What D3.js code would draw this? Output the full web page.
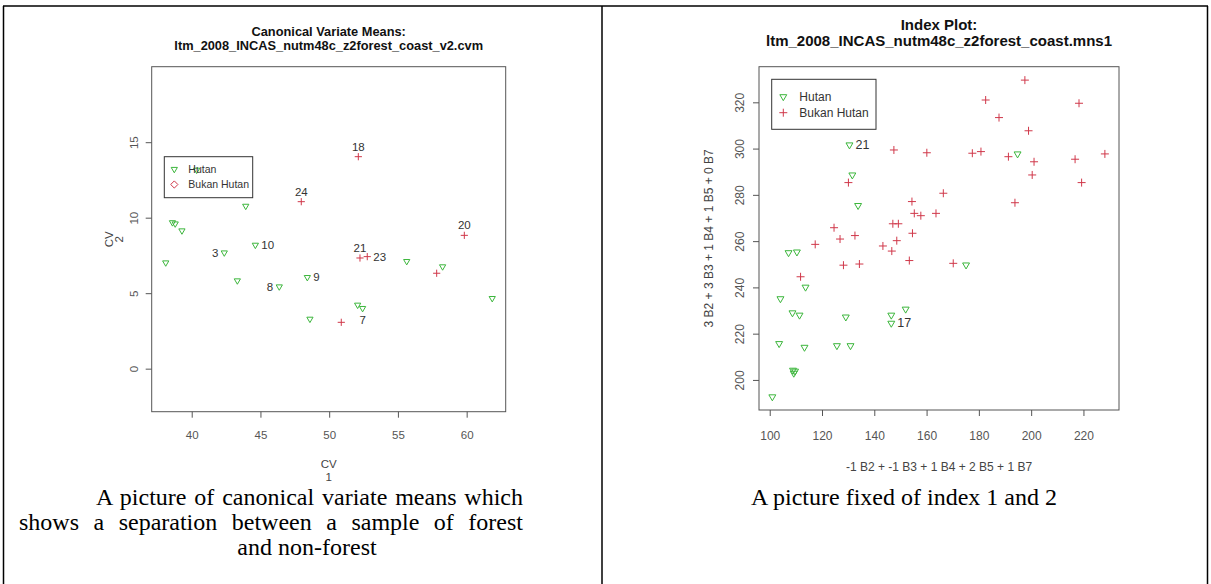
<!DOCTYPE html>
<html>
<head>
<meta charset="utf-8">
<script src="https://cdn.jsdelivr.net/npm/d3@7"></script>
<style>
  body { margin: 0; background: #fff; }
  svg { display: block; }
  text { font-family: "Liberation Sans", Arial, sans-serif; }
  .caption { font-family: "Liberation Serif", "Times New Roman", serif; fill: #000; }
</style>
</head>
<body>
<svg width="1211" height="584"></svg>
<script>
var GREEN = "#3cb63c";
var RED = "#d0384a";

// Canonical Variate Means (kiri)
var cvmTitle = ["Canonical Variate Means:", "ltm_2008_INCAS_nutm48c_z2forest_coast_v2.cvm"];
var cvmXTicks = [40, 45, 50, 55, 60];
var cvmYTicks = [0, 5, 10, 15];
var cvmHutan = [
  {x: 38.11, y: 7.02}, {x: 38.60, y: 9.68}, {x: 38.80, y: 9.60}, {x: 39.29, y: 9.14},
  {x: 40.36, y: 13.16}, {x: 42.37, y: 7.68, lab: "3"}, {x: 43.32, y: 5.83},
  {x: 43.93, y: 10.77}, {x: 44.63, y: 8.19, lab: "10"}, {x: 46.37, y: 5.43, lab: "8"},
  {x: 48.41, y: 6.05, lab: "9"}, {x: 48.60, y: 3.29}, {x: 52.07, y: 4.22},
  {x: 52.43, y: 4.00, lab: "7"}, {x: 55.64, y: 7.11}, {x: 58.25, y: 6.76},
  {x: 61.86, y: 4.66}
];
var cvmBukan = [
  {x: 47.97, y: 11.06, lab: "24"}, {x: 50.88, y: 3.07}, {x: 52.12, y: 14.04, lab: "18"},
  {x: 52.24, y: 7.33, lab: "21"}, {x: 52.77, y: 7.42, lab: "23"}, {x: 57.82, y: 6.32},
  {x: 59.83, y: 8.83, lab: "20"}
];

// Index Plot (kanan)
var idxTitle = ["Index Plot:", "ltm_2008_INCAS_nutm48c_z2forest_coast.mns1"];
var idxXTicks = [100, 120, 140, 160, 180, 200, 220];
var idxYTicks = [200, 220, 240, 260, 280, 300, 320];
var idxHutan = [
  {x: 130.5, y: 301.6, lab: "21"}, {x: 131.6, y: 288.6}, {x: 133.8, y: 275.4},
  {x: 107.2, y: 255.0}, {x: 110.4, y: 255.3}, {x: 113.7, y: 240.1}, {x: 104.1, y: 235.1},
  {x: 108.7, y: 229.0}, {x: 111.4, y: 228.0}, {x: 129.1, y: 227.2}, {x: 146.5, y: 228.0},
  {x: 146.5, y: 224.5, lab: "17"}, {x: 152.0, y: 230.6}, {x: 103.6, y: 215.7},
  {x: 113.3, y: 214.1}, {x: 125.7, y: 214.8}, {x: 130.9, y: 214.8}, {x: 108.9, y: 204.2},
  {x: 109.2, y: 202.9}, {x: 109.7, y: 203.8}, {x: 101.0, y: 192.7}, {x: 194.8, y: 297.7},
  {x: 175.1, y: 249.7}
];
var idxBukan = [
  {x: 130.1, y: 285.3}, {x: 147.5, y: 299.4}, {x: 160.1, y: 298.2}, {x: 177.5, y: 298.0},
  {x: 180.8, y: 298.7}, {x: 191.3, y: 296.5}, {x: 201.1, y: 294.3}, {x: 216.8, y: 295.4},
  {x: 228.2, y: 297.7}, {x: 197.6, y: 329.6}, {x: 182.6, y: 321.0}, {x: 218.3, y: 319.6},
  {x: 187.7, y: 313.4}, {x: 199.0, y: 307.7}, {x: 200.4, y: 288.6}, {x: 219.3, y: 285.3},
  {x: 166.4, y: 280.7}, {x: 193.8, y: 276.6}, {x: 154.4, y: 277.1}, {x: 155.3, y: 272.0},
  {x: 157.8, y: 271.0}, {x: 163.6, y: 272.0}, {x: 147.1, y: 267.5}, {x: 149.2, y: 267.5},
  {x: 154.6, y: 263.4}, {x: 153.4, y: 251.6}, {x: 170.2, y: 250.4}, {x: 124.6, y: 265.8},
  {x: 117.4, y: 258.6}, {x: 126.9, y: 260.9}, {x: 132.6, y: 262.4}, {x: 128.2, y: 249.6},
  {x: 134.3, y: 250.1}, {x: 111.8, y: 244.6}, {x: 143.3, y: 257.9}, {x: 146.7, y: 255.7},
  {x: 148.6, y: 260.2}
];

var legendNames = ["Hutan", "Bukan Hutan"];
var captionLeft = ["A picture of canonical variate means which",
                   "shows a separation between a sample of forest",
                   "and non-forest"];
var captionRight = ["A picture fixed of index 1 and 2"];

var svg = d3.select("svg");

// simbol ala R: pch 6, pch 3, pch 5
function triPath(r) {
  return "M" + (-0.866 * r) + "," + (-r / 2) + "L" + (0.866 * r) + "," + (-r / 2) + "L0," + r + "Z";
}
function plusPath(r) {
  return "M" + (-r) + ",0H" + r + "M0," + (-r) + "V" + r;
}
function diamondPath(r) {
  return "M0," + (-r) + "L" + r + ",0L0," + r + "L" + (-r) + ",0Z";
}

/////////////
// garis tabel
/////////////
var table = svg.append("g").attr("stroke", "#000").attr("stroke-width", 1.5);
table.append("line").attr("x1", 3).attr("x2", 1208).attr("y1", 6).attr("y2", 6);
[3.5, 602, 1207.5].forEach(function(xv) {
  table.append("line").attr("x1", xv).attr("x2", xv).attr("y1", 6).attr("y2", 584);
});

function drawPanel(p) {
  var x = d3.scaleLinear().domain(p.xDomain).range([p.left, p.right]);
  var y = d3.scaleLinear().domain(p.yDomain).range([p.bottom, p.top]);
  var g = svg.append("g");

  // judul
  g.selectAll(".title").data(p.title).enter().append("text")
      .attr("x", (p.left + p.right) / 2)
      .attr("y", function(d, i) { return p.titleY + i * p.titleGap; })
      .attr("text-anchor", "middle")
      .attr("font-weight", "bold")
      .attr("font-size", p.titleSize)
      .attr("fill", "#111")
      .text(function(d) { return d; });

  // sumbu
  var xAxis = g.append("g")
      .attr("transform", "translate(0," + p.bottom + ")")
      .call(d3.axisBottom(x).tickValues(p.xTicks).tickSize(6).tickPadding(p.xPad));
  var yAxis = g.append("g")
      .attr("transform", "translate(" + p.left + ",0)")
      .call(d3.axisLeft(y).tickValues(p.yTicks).tickSize(6));
  [xAxis, yAxis].forEach(function(a) {
    a.attr("font-family", null).attr("font-size", p.tickFont);
    a.select(".domain").remove();
    a.selectAll(".tick line").attr("stroke", "#555");
    a.selectAll(".tick text").attr("fill", "#555");
  });
  yAxis.selectAll(".tick text")
      .attr("transform", "rotate(-90)")
      .attr("x", 0)
      .attr("y", -p.yPad)
      .attr("dy", 0)
      .attr("text-anchor", "middle");

  // kotak plot
  g.append("rect")
      .attr("x", p.left).attr("y", p.top)
      .attr("width", p.right - p.left).attr("height", p.bottom - p.top)
      .attr("fill", "none").attr("stroke", "#555").attr("stroke-width", 1);

  // label sumbu
  g.selectAll(".xlab").data(p.xLabel).enter().append("text")
      .attr("x", (p.left + p.right) / 2)
      .attr("y", function(d, i) { return p.xLabelY + i * 13; })
      .attr("text-anchor", "middle")
      .attr("font-size", p.labFont)
      .attr("fill", "#444")
      .text(function(d) { return d; });
  var cy = (p.top + p.bottom) / 2;
  g.selectAll(".ylab").data(p.yLabel).enter().append("text")
      .attr("transform", function(d, i) { return "translate(" + (p.yLabelX + i * 10) + "," + cy + ") rotate(-90)"; })
      .attr("text-anchor", "middle")
      .attr("font-size", p.labFont)
      .attr("fill", "#444")
      .text(function(d) { return d; });

  // titik
  g.selectAll(".hutan").data(p.hutan).enter().append("path")
      .attr("transform", function(d) { return "translate(" + x(d.x) + "," + y(d.y) + ")"; })
      .attr("d", triPath(p.symR))
      .attr("fill", "none").attr("stroke", GREEN).attr("stroke-width", 1);
  g.selectAll(".bukan").data(p.bukan).enter().append("path")
      .attr("transform", function(d) { return "translate(" + x(d.x) + "," + y(d.y) + ")"; })
      .attr("d", plusPath(p.symR))
      .attr("fill", "none").attr("stroke", RED).attr("stroke-width", 1);

  // nomor titik
  var labelled = p.hutan.concat(p.bukan).filter(function(d) { return d.lab; });
  g.selectAll(".plab").data(labelled).enter().append("text")
      .attr("x", function(d) {
        var s = p.sides[d.lab];
        return x(d.x) + (s == "left" ? -6 : s == "right" ? 6 : 0);
      })
      .attr("y", function(d) {
        var s = p.sides[d.lab];
        return y(d.y) + (s == "above" ? -6 : s == "below" ? 16 : 4);
      })
      .attr("text-anchor", function(d) {
        var s = p.sides[d.lab];
        return s == "left" ? "end" : s == "right" ? "start" : "middle";
      })
      .attr("font-size", p.ptFont)
      .attr("fill", "#333")
      .text(function(d) { return d.lab; });

  // legenda
  var lg = g.append("g").attr("transform", "translate(" + p.legend[0] + "," + p.legend[1] + ")");
  lg.append("rect")
      .attr("width", p.legend[2]).attr("height", p.legend[3])
      .attr("fill", "none").attr("stroke", "#333");
  var items = lg.selectAll(".item").data(legendNames).enter().append("g")
      .attr("transform", function(d, i) { return "translate(" + p.legSym + "," + (p.legRow0 + i * p.legGap) + ")"; });
  items.append("path")
      .attr("d", function(d, i) { return i == 0 ? triPath(p.symR) : p.legendKey(p.symR); })
      .attr("fill", "none")
      .attr("stroke", function(d, i) { return i == 0 ? GREEN : RED; });
  items.append("text")
      .attr("x", p.legText)
      .attr("y", p.legFont * 0.36)
      .attr("font-size", p.legFont)
      .attr("fill", "#333")
      .text(function(d) { return d; });
}

drawPanel({
  title: cvmTitle, titleY: 36, titleGap: 14, titleSize: 12.8,
  left: 151.7, right: 505.7, top: 66.7, bottom: 411.7,
  xDomain: [37.09, 62.84], yDomain: [-2.85, 20.0],
  xTicks: cvmXTicks, yTicks: cvmYTicks, tickFont: 11.5, xPad: 13, yPad: 14,
  xLabel: ["CV", "1"], xLabelY: 467.5, yLabel: ["CV", "2"], yLabelX: 113, labFont: 11.5,
  hutan: cvmHutan, bukan: cvmBukan, symR: 3.6, ptFont: 11.5,
  sides: {"3": "left", "10": "right", "8": "left", "9": "right", "7": "below",
          "24": "above", "18": "above", "21": "above", "23": "right", "20": "above"},
  legend: [164.3, 156.7, 88.4, 41], legSym: 10, legRow0: 12.5, legGap: 15.3,
  legText: 14, legFont: 10.5, legendKey: diamondPath
});

drawPanel({
  title: idxTitle, titleY: 29.5, titleGap: 16.5, titleSize: 15,
  left: 759, right: 1119, top: 66.7, bottom: 410,
  xDomain: [95.9, 233.6], yDomain: [187.0, 335.4],
  xTicks: idxXTicks, yTicks: idxYTicks, tickFont: 12, xPad: 15, yPad: 15.5,
  xLabel: ["-1 B2 + -1 B3 + 1 B4 + 2 B5 + 1 B7"], xLabelY: 471,
  yLabel: ["3 B2 + 3 B3 + 1 B4 + 1 B5 + 0 B7"], yLabelX: 712.6, labFont: 12,
  hutan: idxHutan, bukan: idxBukan, symR: 4, ptFont: 12.5,
  sides: {"21": "right", "17": "right"},
  legend: [771.7, 79.3, 104.3, 50], legSym: 11.6, legRow0: 17.4, legGap: 16,
  legText: 16, legFont: 12, legendKey: plusPath
});

/////////////
// keterangan
/////////////
// dua baris pertama rata kiri-kanan, baris terakhir di tengah
var capSpans = [[96, 523], [19, 523]];
svg.selectAll(".capL").data(captionLeft).enter().append("text")
    .attr("class", "caption")
    .attr("y", function(d, i) { return 505 + i * 25; })
    .attr("font-size", 24)
    .text(function(d) { return d; })
    .each(function(d, i) {
      var t = d3.select(this);
      if (i < capSpans.length) {
        t.attr("x", capSpans[i][0]).attr("text-anchor", "start");
        var free = capSpans[i][1] - capSpans[i][0] - this.getComputedTextLength();
        var gaps = d.split(" ").length - 1;
        if (free > 0) t.attr("word-spacing", free / gaps);
      } else {
        t.attr("x", 307).attr("text-anchor", "middle");
      }
    });
svg.selectAll(".capR").data(captionRight).enter().append("text")
    .attr("class", "caption")
    .attr("x", 904)
    .attr("y", 505)
    .attr("text-anchor", "middle")
    .attr("font-size", 24)
    .text(function(d) { return d; });
</script>
</body>
</html>
